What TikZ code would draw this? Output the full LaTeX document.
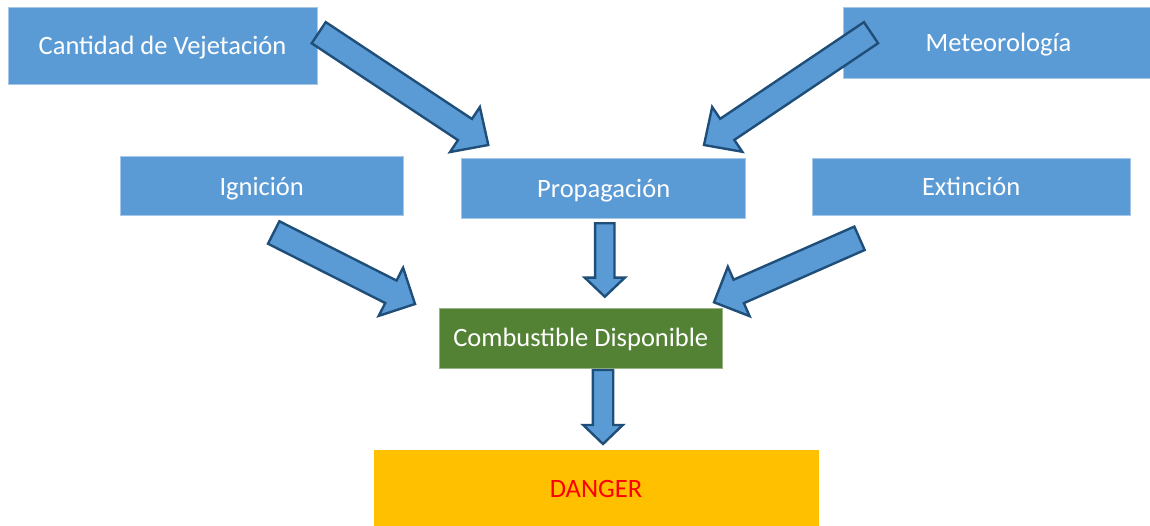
\documentclass[tikz,border=0pt]{standalone}
\usepackage{fontspec}
\setmainfont{Carlito}
\usetikzlibrary{calc}
\definecolor{boxblue}{HTML}{5B9BD5}
\definecolor{edgeblue}{HTML}{1F4E79}
\definecolor{boxgreen}{HTML}{548235}
\definecolor{boxorange}{HTML}{FFC000}
\tikzset{
  box/.style={rectangle, fill=boxblue, draw=boxblue!55!white, line width=0.8pt, text=white,
    font=\fontsize{26.5}{31}\selectfont, text height=17.3pt, text depth=0pt, inner sep=0pt},
  fatarrow/.style={fill=boxblue, draw=edgeblue, line width=2.4pt}
}
% tail, tip, shaft half width, head half width, head length
\newcommand{\fatarrow}[5]{
  \coordinate (fa-base) at ($(#2)!#5!(#1)$);
  \draw [fatarrow] ($(#1)!#3!90:(#2)$) -- ($(fa-base)!#3!90:(#2)$) -- ($(fa-base)!#4!90:(#2)$)
    -- (#2) -- ($(fa-base)!#4!-90:(#2)$) -- ($(fa-base)!#3!-90:(#2)$) -- ($(#1)!#3!-90:(#2)$) -- cycle;
}
\begin{document}
\begin{tikzpicture}[x=1pt,y=-1pt]
    \useasboundingbox (0,0) rectangle (1150,526);
    \node [box, minimum width=309pt, minimum height=77pt] (veg) at (162.5,45.5) {Cantidad de Vejetación};
    \node [box, minimum width=310pt, minimum height=71pt] (met) at (998.5,42.8) {Meteorología};
    \node [box, minimum width=283pt, minimum height=59pt] (ign) at (261.7,186.4) {Ignición};
    \node [box, minimum width=284pt, minimum height=60pt] (prop) at (603.7,188.7) {Propagación};
    \node [box, minimum width=318pt, minimum height=57pt] (ext) at (971.2,187) {Extinción};
    \node [box, fill=boxgreen, draw=boxgreen!60!white, minimum width=283pt, minimum height=60pt] (comb) at (580.8,338.3) {Combustible Disponible};
    \node [box, fill=boxorange, draw=boxorange, text=red, minimum width=444pt, minimum height=77pt] (danger) at (596,488.5) {DANGER};
    \coordinate (veg-out) at (318.7,32.7);
    \coordinate (met-out) at (871,32.7);
    \coordinate (prop-in-l) at (488.3,145);
    \coordinate (prop-in-r) at (704,145);
    \coordinate (ign-out) at (273.7,232.5);
    \coordinate (ext-out) at (859.5,238.3);
    \coordinate (comb-in-l) at (415,304);
    \coordinate (comb-in-r) at (714,302.3);
    \coordinate (prop-out) at (604.8,223.3);
    \coordinate (comb-in) at (604.8,296.7);
    \coordinate (comb-out) at (603,370);
    \coordinate (danger-in) at (603,444);
    \fatarrow{veg-out}{prop-in-l}{12.7pt}{27pt}{28pt}
    \fatarrow{met-out}{prop-in-r}{12.7pt}{27pt}{28pt}
    \fatarrow{ign-out}{comb-in-l}{12.6pt}{27pt}{27pt}
    \fatarrow{ext-out}{comb-in-r}{12.8pt}{27pt}{27pt}
    \fatarrow{prop-out}{comb-in}{9.7pt}{20pt}{19pt}
    \fatarrow{comb-out}{danger-in}{10.2pt}{19.8pt}{19pt}
\end{tikzpicture}
\end{document}
